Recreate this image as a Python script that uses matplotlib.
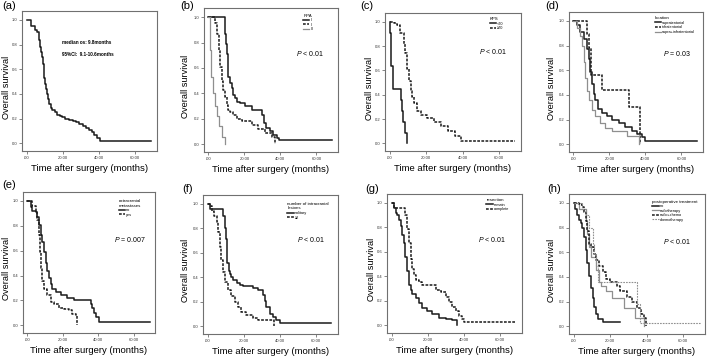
import matplotlib.pyplot as plt

plt.rcParams['font.family'] = ['Liberation Sans', 'DejaVu Sans']
plt.rcParams['mathtext.fontset'] = 'custom'
plt.rcParams['mathtext.rm'] = 'Liberation Sans'
plt.rcParams['mathtext.it'] = 'Liberation Sans:italic'

# ---- data (months, survival) ----
# (a) all patients
all_t = [0, 2.7, 4.7, 5.6, 7.0, 7.5, 8.0, 8.4, 8.9, 9.4, 9.8, 10.3, 10.8, 11.3, 12.0, 12.6, 13.3, 14.1,
         15.5, 16.9, 18.5, 19.7, 21.5, 23.5, 25.5, 27.2, 29.0, 31.0, 33.0, 34.7, 36.0, 37.5, 39.0, 40.3, 68.5]
all_s = [1.0, 0.95, 0.92, 0.90, 0.84, 0.78, 0.74, 0.70, 0.64, 0.59, 0.53, 0.48, 0.44, 0.40, 0.36, 0.32, 0.29, 0.27,
         0.25, 0.23, 0.22, 0.21, 0.20, 0.19, 0.18, 0.17, 0.155, 0.14, 0.125, 0.11, 0.09, 0.07, 0.045, 0.016, 0.016]

# (b) RPA
rpa1_t = [0, 8.9, 9.6, 10.2, 10.6, 11.1, 12.0, 13.0, 13.9, 14.8, 15.7, 17.6, 20.4, 24.0, 30.0, 31.0, 32.0,
          34.3, 36.0, 38.0, 39.3, 68.5]
rpa1_s = [1.0, 0.87, 0.79, 0.71, 0.62, 0.53, 0.48, 0.44, 0.39, 0.36, 0.33, 0.32, 0.30, 0.27, 0.23, 0.17, 0.13,
          0.10, 0.07, 0.05, 0.03, 0.03]
rpa2_t = [0, 3.7, 4.6, 5.6, 6.5, 7.4, 8.3, 9.3, 10.2, 11.1, 12.0, 13.9, 15.7, 18.5, 24.0, 27.5, 31.5, 35.2, 37.0]
rpa2_s = [1.0, 0.95, 0.87, 0.74, 0.61, 0.50, 0.43, 0.37, 0.31, 0.27, 0.25, 0.23, 0.20, 0.18, 0.15, 0.12, 0.09, 0.06, 0.0]
rpa3_t = [0, 0.6, 1.5, 2.4, 3.7, 4.6, 5.6, 7.4, 8.9]
rpa3_s = [1.0, 0.74, 0.53, 0.40, 0.30, 0.22, 0.14, 0.06, 0.0]

# (c) KPS
kps_lo_t = [0, 0.4, 1.0, 1.9, 6.1, 6.7, 7.6, 8.2, 9.6]
kps_lo_s = [1.0, 0.91, 0.64, 0.45, 0.36, 0.27, 0.18, 0.09, 0.0]
kps_hi_t = [0, 2.2, 4.1, 5.9, 7.8, 8.7, 9.6, 10.6, 11.5, 12.4, 13.3, 15.2, 17.0, 20.7, 24.4, 28.1, 31.9, 35.6, 39.3, 68.9]
kps_hi_s = [1.0, 0.99, 0.97, 0.91, 0.82, 0.74, 0.61, 0.51, 0.43, 0.38, 0.33, 0.27, 0.23, 0.21, 0.18, 0.14, 0.10, 0.065, 0.02, 0.02]

# (d) location
supra_t = [0, 1.9, 3.7, 5.6, 7.4, 8.4, 9.3, 10.2, 11.2, 12.1, 13.9, 15.8, 18.6, 21.4, 25.1, 28.8, 32.5, 35.3, 38.1, 40.0, 68.8]
supra_s = [1.0, 0.97, 0.91, 0.85, 0.77, 0.69, 0.59, 0.49, 0.41, 0.36, 0.29, 0.25, 0.23, 0.20, 0.17, 0.14, 0.11, 0.08, 0.057, 0.03, 0.03]
infra_t = [0, 7.4, 8.6, 9.5, 15.8, 30.7, 37.2]
infra_s = [1.0, 0.89, 0.78, 0.56, 0.44, 0.30, 0.0]
both_t = [0, 1.9, 3.7, 4.6, 5.6, 6.5, 7.4, 8.4, 10.2, 12.1, 14.9, 17.7, 21.4, 29.7, 36.6]
both_s = [1.0, 0.94, 0.875, 0.80, 0.67, 0.54, 0.43, 0.36, 0.28, 0.23, 0.17, 0.135, 0.11, 0.07, 0.0]

# (e) extracranial metastases
meta_no_t = [0, 1.9, 2.8, 4.7, 5.6, 6.6, 7.5, 8.4, 9.4, 10.3, 11.3, 12.2, 13.1, 14.1, 15.9, 18.8, 22.5, 26.3,
             35.6, 36.6, 37.5, 38.5, 40.3, 69.0]
meta_no_s = [1.0, 0.95, 0.92, 0.91, 0.87, 0.81, 0.73, 0.67, 0.59, 0.50, 0.44, 0.38, 0.33, 0.29, 0.27, 0.24, 0.22, 0.20,
             0.17, 0.14, 0.10, 0.064, 0.026, 0.026]
meta_yes_t = [0, 2.8, 4.7, 5.6, 6.6, 7.1, 7.5, 8.4, 9.4, 11.3, 13.1, 15.0, 17.8, 20.6, 23.5, 25.3, 27.2, 28.1]
meta_yes_s = [1.0, 0.96, 0.92, 0.85, 0.73, 0.59, 0.46, 0.36, 0.29, 0.24, 0.19, 0.17, 0.14, 0.13, 0.12, 0.09, 0.077, 0.0]

# (f) number of intracranial lesions
sol_t = [0, 1.3, 8.6, 9.5, 10.1, 10.5, 11.0, 11.7, 12.3, 13.2, 14.1, 16.0, 17.8, 19.6, 25.1, 27.9, 30.6, 31.6,
         32.5, 34.3, 36.1, 38.0, 39.8, 68.3]
sol_s = [1.0, 0.96, 0.90, 0.80, 0.71, 0.59, 0.52, 0.45, 0.43, 0.40, 0.38, 0.35, 0.34, 0.33, 0.31, 0.30, 0.26, 0.21,
         0.16, 0.10, 0.08, 0.05, 0.03, 0.03]
mult_t = [0, 1.3, 2.2, 3.7, 5.0, 5.9, 6.8, 7.7, 8.6, 9.5, 11.4, 13.2, 15.0, 16.9, 18.7, 21.5, 25.1, 27.9, 36.5]
mult_s = [1.0, 0.98, 0.94, 0.90, 0.85, 0.77, 0.65, 0.54, 0.44, 0.36, 0.30, 0.25, 0.20, 0.16, 0.12, 0.095, 0.07, 0.056, 0.0]

# (g) resection
remain_t = [0, 1.3, 2.2, 3.1, 4.1, 5.0, 5.9, 6.8, 7.7, 8.7, 9.6, 10.5, 11.4, 13.3, 15.1, 17.0, 19.7, 22.5, 26.2, 29.9, 33.6, 36.3]
remain_s = [1.0, 0.96, 0.92, 0.90, 0.86, 0.81, 0.74, 0.67, 0.56, 0.44, 0.33, 0.29, 0.26, 0.22, 0.18, 0.14, 0.115, 0.09, 0.064, 0.05, 0.04, 0.0]
compl_t = [0, 1.3, 7.7, 8.7, 9.6, 10.5, 11.4, 12.4, 13.3, 15.1, 17.0, 24.4, 27.1, 29.9, 31.7, 33.6, 35.4, 37.3, 39.1, 40.0, 68.6]
compl_s = [1.0, 0.96, 0.90, 0.79, 0.67, 0.54, 0.46, 0.41, 0.37, 0.35, 0.33, 0.29, 0.27, 0.23, 0.19, 0.15, 0.115, 0.08, 0.05, 0.03, 0.03]

# (h) postoperative treatment
tr_no_t = [0, 0.9, 1.9, 2.8, 3.8, 4.7, 5.7, 6.6, 7.6, 8.5, 9.5, 10.4, 11.4, 12.3, 13.3, 16.1, 25.6]
tr_no_s = [1.0, 0.95, 0.90, 0.86, 0.84, 0.80, 0.72, 0.62, 0.51, 0.41, 0.31, 0.23, 0.16, 0.10, 0.06, 0.034, 0.034]
radio_t = [0, 2.8, 6.6, 7.6, 8.5, 9.5, 12.3, 14.2, 15.2, 18.0, 20.8, 27.5, 33.5, 38.4]
radio_s = [1.0, 0.95, 0.85, 0.75, 0.64, 0.56, 0.46, 0.36, 0.33, 0.29, 0.23, 0.15, 0.07, 0.0]
rc_t = [0, 2.8, 4.7, 5.7, 6.6, 7.6, 8.5, 9.5, 11.4, 12.3, 14.2, 16.1, 18.0, 19.9, 23.7, 25.6, 29.4, 32.2, 35.0, 36.9, 38.8, 39.8]
rc_s = [1.0, 0.99, 0.97, 0.93, 0.85, 0.77, 0.67, 0.64, 0.59, 0.54, 0.49, 0.44, 0.38, 0.36, 0.33, 0.29, 0.24, 0.20, 0.15, 0.10, 0.07, 0.0]
chemo_t = [0, 4.7, 6.6, 8.5, 10.4, 11.4, 12.3, 13.3, 35.0, 36.5, 70.0]
chemo_s = [1.0, 0.95, 0.90, 0.80, 0.67, 0.59, 0.49, 0.36, 0.18, 0.03, 0.03]

x_ticks = [0, 20, 40, 60]
x_ticklabels = ['.00', '20.00', '40.00', '60.00']
y_ticks = [0.0, 0.2, 0.4, 0.6, 0.8, 1.0]

# ---- styles ----
W, H = 709, 362
BLACK = '#1a1a1a'
GRAY = '#8f8f8f'
SOLID = dict(color=BLACK, lw=1.1, ls='-')
DASH = dict(color=BLACK, lw=1.1, ls=(0, (1.8, 0.9)))
GSOLID = dict(color=GRAY, lw=0.9, ls='-')
GDASH = dict(color=GRAY, lw=0.8, ls=(0, (1.5, 1.0)))

fig = plt.figure(figsize=(W / 100, H / 100), dpi=100)


def px_axes(x0, y0, x1, y1):
    return fig.add_axes([x0 / W, 1 - y1 / H, (x1 - x0) / W, (y1 - y0) / H])


def fig_text(x, y, s, **kw):
    fig.text(x / W, 1 - y / H, s, **kw)


def km_panel(box, letter, letter_xy, ylab_x, curves, title=None, pval=None, p_xy=None, leg_xy=None):
    ax = px_axes(*box)
    for t, s, lab, style in curves:
        ax.step(t, s, where='post', label=lab, **style)
    ax.set_xlim(-2.5, 72)
    ax.set_ylim(-0.062, 1.072)
    ax.set_xticks(x_ticks)
    ax.set_xticklabels(x_ticklabels)
    ax.set_yticks(y_ticks)
    ax.set_yticklabels(['%.1f' % v for v in y_ticks])
    ax.tick_params(length=2, width=0.5, pad=1.5, labelsize=3, colors='#555555', labelcolor='#333333')
    for sp in ax.spines.values():
        sp.set_color('#707070')
        sp.set_linewidth(0.8)
    ax.set_xlabel('Time after surgery (months)', fontsize=6.8, labelpad=3)
    x0, y0, x1, y1 = box
    fig_text(ylab_x, (y0 + y1) / 2 + 6, 'Overall survival', fontsize=6.6, rotation=90, ha='center', va='center')
    fig_text(letter_xy[0], letter_xy[1], letter, fontsize=8, ha='left', va='top')
    if pval is not None:
        fig_text(p_xy[0], p_xy[1], pval, fontsize=5, ha='left', va='center')
    if title is not None:
        leg = ax.legend(loc='upper center', bbox_to_anchor=leg_xy, frameon=False, fontsize=2.8,
                        title=title, title_fontsize=3.2, handlelength=1.6, handletextpad=0.3,
                        labelspacing=0.15, borderpad=0.2, alignment='center')
        leg._legend_box.align = 'left'
    return ax


# (a)
ax_a = km_panel((22, 11, 157, 151), '(a)', (2, 1), 7, [(all_t, all_s, None, SOLID)])
fig_text(62, 43, 'median os: 9.8months', fontsize=3.3, ha='left', va='center', weight='bold')
fig_text(62, 54, '95%CI:  9.1-10.6months', fontsize=3.3, ha='left', va='center', weight='bold')

# (b)
km_panel((204, 8, 338, 152), '(b)', (180, 1), 186,
         [(rpa1_t, rpa1_s, 'I', SOLID), (rpa2_t, rpa2_s, 'II', DASH), (rpa3_t, rpa3_s, 'III', GSOLID)],
         'RPA', '$P$ < 0.01', (296, 53), (0.78, 0.98))

# (c)
km_panel((385, 13, 521, 151), '(c)', (360, 1), 370,
         [(kps_lo_t, kps_lo_s, '<70', SOLID), (kps_hi_t, kps_hi_s, '\u226570', DASH)],
         'KPS', '$P$ < 0.01', (479, 52), (0.82, 0.99))

# (d)
km_panel((569, 12, 703, 152), '(d)', (545, 1), 551,
         [(supra_t, supra_s, 'supratentorial', SOLID), (infra_t, infra_s, 'infratentorial', DASH),
          (both_t, both_s, 'supra+infratentorial', GSOLID)],
         'location', '$P$ = 0.03', (663, 54), (0.79, 0.99))

# (e)
km_panel((23, 192, 155, 333), '(e)', (2, 180), 7,
         [(meta_no_t, meta_no_s, 'no', SOLID), (meta_yes_t, meta_yes_s, 'yes', DASH)],
         'extracranial\nmetastases', '$P$ = 0.007', (114, 240), (0.81, 0.97))

# (f)
km_panel((203, 195, 338, 334), '(f)', (182, 184), 186,
         [(sol_t, sol_s, 'solitary', SOLID), (mult_t, mult_s, '\u22652', DASH)],
         'number of intracranial\nlesions', '$P$ < 0.01', (297, 240), (0.78, 0.97))

# (g)
km_panel((387, 194, 522, 333), '(g)', (365, 184), 371,
         [(remain_t, remain_s, 'remain', SOLID), (compl_t, compl_s, 'complete', DASH)],
         'resection', '$P$ < 0.01', (478, 240), (0.82, 0.99))

# (h)
km_panel((569, 194, 705, 334), '(h)', (547, 184), 552,
         [(tr_no_t, tr_no_s, 'no', SOLID), (radio_t, radio_s, 'radiotherapy', GSOLID),
          (rc_t, rc_s, 'radio+chemo', DASH), (chemo_t, chemo_s, 'chemotherapy', GDASH)],
         'postoperative treatment', '$P$ < 0.01', (663, 241), (0.78, 0.98))

fig.savefig('out.png', dpi=100)
